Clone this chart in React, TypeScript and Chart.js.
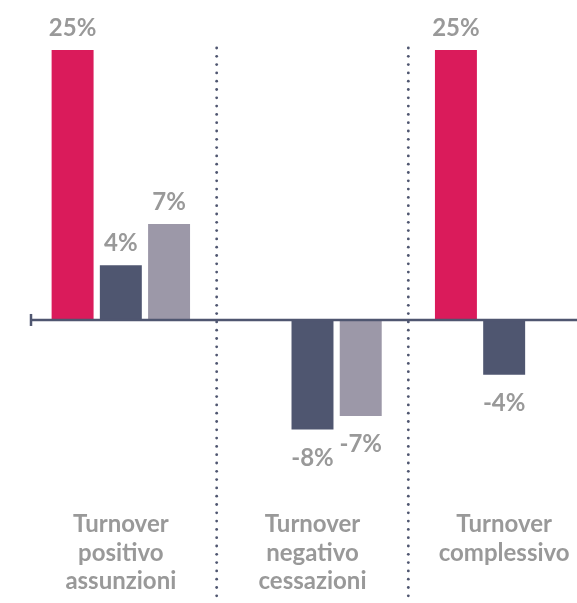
import React, { useEffect, useRef } from "react";
import { Chart, registerables } from "chart.js";

Chart.register(...registerables);

const categories: string[][] = [
  ["Turnover", "positivo", "assunzioni"],
  ["Turnover", "negativo", "cessazioni"],
  ["Turnover", "complessivo"],
];
const seriesPink: (number | null)[] = [25, null, 25];
const seriesSlate: (number | null)[] = [4, -8, -4];
const seriesGrey: (number | null)[] = [7, -7, null];

const PINK = "#da1b5b";
const SLATE = "#4f5670";
const GREY = "#9c98a8";
const TEXT = "#999999";
const FONT = "bold 24px Lato, 'Open Sans', sans-serif";

const decorPlugin = {
  id: "decor",
  beforeDatasetsDraw(chart: any) {
    const { ctx, chartArea } = chart;
    const x = chart.scales.x;
    ctx.save();
    ctx.fillStyle = SLATE;
    const n = chart.data.labels.length;
    for (let i = 0; i < n - 1; i++) {
      const bx = (x.getPixelForValue(i) + x.getPixelForValue(i + 1)) / 2;
      for (let y = chartArea.top - 2; y < chart.height; y += 8.3) {
        ctx.beginPath();
        ctx.arc(bx, y, 1.4, 0, Math.PI * 2);
        ctx.fill();
      }
    }
    ctx.restore();
  },
  afterDatasetsDraw(chart: any) {
    const { ctx, chartArea } = chart;
    const y = chart.scales.y;
    const x = chart.scales.x;
    const y0 = y.getPixelForValue(0);
    ctx.save();
    ctx.strokeStyle = SLATE;
    ctx.lineWidth = 2.5;
    ctx.beginPath();
    ctx.moveTo(31, y0);
    ctx.lineTo(chart.width, y0);
    ctx.stroke();
    ctx.beginPath();
    ctx.moveTo(31, y0 - 6);
    ctx.lineTo(31, y0 + 6);
    ctx.stroke();

    ctx.font = FONT;
    ctx.fillStyle = TEXT;
    ctx.textAlign = "center";
    ctx.textBaseline = "alphabetic";
    chart.data.datasets.forEach((ds: any, di: number) => {
      const meta = chart.getDatasetMeta(di);
      meta.data.forEach((el: any, i: number) => {
        const v = ds.data[i];
        if (v === null || v === undefined) return;
        const label = `${v}%`;
        if (v >= 0) {
          const top = Math.max(el.y, chartArea.top);
          ctx.fillText(label, el.x, top - 14);
        } else {
          ctx.fillText(label, el.x, el.y + 36);
        }
      });
    });

    chart.data.labels.forEach((lines: string[], i: number) => {
      const cx = x.getPixelForValue(i);
      lines.forEach((t: string, li: number) => {
        ctx.fillText(t, cx, 532 + li * 28.5);
      });
    });
    ctx.restore();
  },
};

export default function App() {
  const ref = useRef<HTMLCanvasElement | null>(null);
  useEffect(() => {
    if (!ref.current) return;
    const chart = new Chart(ref.current, {
      type: "bar",
      data: {
        labels: categories as any,
        datasets: [
          { data: seriesPink, backgroundColor: PINK, clip: 0 } as any,
          { data: seriesSlate, backgroundColor: SLATE, clip: 0 } as any,
          { data: seriesGrey, backgroundColor: GREY, clip: 0 } as any,
        ],
      },
      options: {
        responsive: false,
        animation: false,
        layout: { padding: { left: 25, right: 20, top: 50, bottom: 146 } },
        categoryPercentage: 0.755,
        barPercentage: 0.87,
        plugins: { legend: { display: false }, tooltip: { enabled: false } },
        scales: {
          x: { display: false },
          y: { display: false, min: -10, max: 19.7 },
        },
      } as any,
      plugins: [decorPlugin],
    });
    return () => chart.destroy();
  }, []);
  return (
    <div
      style={{
        position: "absolute",
        left: 0,
        top: 0,
        width: 577,
        height: 603,
        overflow: "hidden",
        background: "#fff",
      }}
    >
      <canvas ref={ref} width={620} height={603} style={{ display: "block" }} />
    </div>
  );
}
